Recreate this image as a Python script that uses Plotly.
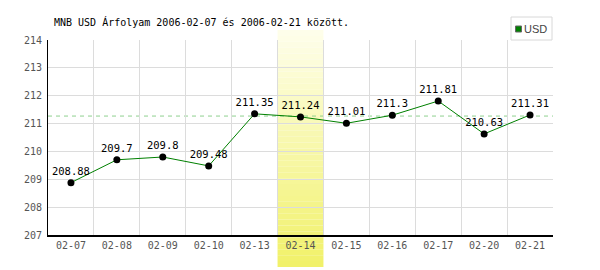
import plotly.graph_objects as go

categories = ["02-07", "02-08", "02-09", "02-10", "02-13", "02-14",
              "02-15", "02-16", "02-17", "02-20", "02-21"]
usd_values = [208.88, 209.7, 209.8, 209.48, 211.35, 211.24,
              211.01, 211.3, 211.81, 210.63, 211.31]
value_labels = ["208.88", "209.7", "209.8", "209.48", "211.35", "211.24",
                "211.01", "211.3", "211.81", "210.63", "211.31"]
reference_level = [211.27]
highlight_category = ["02-14"]
title_text = "MNB USD Árfolyam 2006-02-07 és 2006-02-21 között."

W, H = 600, 270
L, R, T, B = 48, 47, 40, 35
plot_h = H - T - B
plot_w = W - L - R

def py(p):
    return (H - B - p) / plot_h

def px(p):
    return (p - L) / plot_w

mono = "DejaVu Sans Mono"

fig = go.Figure()
fig.add_trace(go.Scatter(
    x=categories, y=usd_values, mode="lines+markers+text",
    text=value_labels, textposition="top center",
    textfont=dict(family=mono, size=10.5, color="#000"),
    line=dict(color="#008000", width=1),
    marker=dict(color="#000", size=7),
    cliponaxis=False, showlegend=False,
))

shapes = []
# gradient highlight band
idx = categories.index(highlight_category[0])
top_px, bot_px = 30, 267
n = 40
c0 = (254, 254, 236)
c1 = (241, 241, 104)
for i in range(n):
    y0p = top_px + (bot_px - top_px) * i / n
    y1p = top_px + (bot_px - top_px) * (i + 1) / n
    t = (i + 0.5) / n
    c = tuple(int(round(c0[k] + (c1[k] - c0[k]) * t)) for k in range(3))
    shapes.append(dict(type="rect", xref="x", yref="paper",
                       x0=idx - 0.5, x1=idx + 0.5, y0=py(y1p), y1=py(y0p),
                       fillcolor="rgb(%d,%d,%d)" % c, line=dict(width=0),
                       layer="between"))
# reference dashed line
shapes.append(dict(type="line", xref="paper", yref="y", x0=0, x1=1,
                   y0=reference_level[0], y1=reference_level[0],
                   line=dict(color="#8fd08f", width=1, dash="4px,4px"),
                   layer="between"))
# legend box
shapes.append(dict(type="rect", xref="paper", yref="paper",
                   x0=px(511), x1=px(552), y0=py(40), y1=py(17),
                   line=dict(color="#d8d8d8", width=1), fillcolor="rgba(0,0,0,0)"))
shapes.append(dict(type="rect", xref="paper", yref="paper",
                   x0=px(515.5), x1=px(521.5), y0=py(32), y1=py(26),
                   line=dict(color="#666", width=1), fillcolor="#008000"))

fig.update_layout(
    width=W, height=H,
    margin=dict(l=L, r=R, t=T, b=B),
    paper_bgcolor="white", plot_bgcolor="white",
    shapes=shapes,
    annotations=[
        dict(text=title_text, xref="paper", yref="paper", x=px(52), y=py(22),
             xanchor="left", yanchor="middle", showarrow=False,
             font=dict(family=mono, size=10, color="#000")),
        dict(text="USD", xref="paper", yref="paper", x=px(522), y=py(29),
             xanchor="left", yanchor="middle", showarrow=False,
             font=dict(family="Liberation Sans Narrow, Liberation Sans", size=11, color="#444")),
    ],
    xaxis=dict(type="category", range=[-0.5, len(categories) - 0.5],
               tickson="boundaries", showgrid=True, gridcolor="#dcdcdc",
               showline=True, linecolor="#000", linewidth=2, ticks="",
               tickfont=dict(family=mono, size=10, color="#555"),
               fixedrange=True),
    yaxis=dict(range=[207, 214], dtick=1, showgrid=True, gridcolor="#dcdcdc",
               showline=True, linecolor="#000", linewidth=1, ticks="",
               ticklabelstandoff=3,
               tickfont=dict(family=mono, size=10, color="#555"),
               zeroline=False, fixedrange=True),
)

fig.write_html("out.html")
